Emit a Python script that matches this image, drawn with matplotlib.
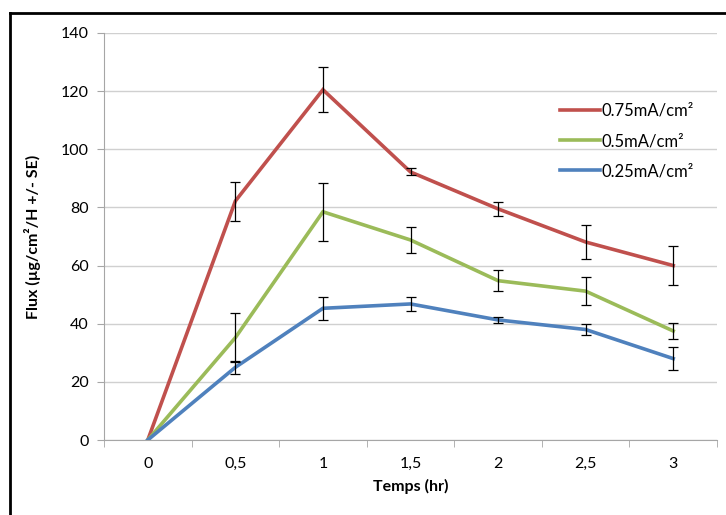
import matplotlib.pyplot as plt
from matplotlib.lines import Line2D

plt.rcParams['font.family'] = ['Lato', 'DejaVu Sans']

temps = ['0', '0,5', '1', '1,5', '2', '2,5', '3']
flux_075 = [0, 82.2, 120.5, 92.2, 79.5, 68.1, 60.0]
err_075 = [0, 6.7, 7.8, 1.2, 2.4, 5.9, 6.7]
flux_05 = [0, 35.2, 78.5, 68.8, 54.8, 51.2, 37.5]
err_05 = [0, 8.4, 10.0, 4.5, 3.7, 4.8, 2.9]
flux_025 = [0, 25.0, 45.3, 46.8, 41.3, 38.0, 28.0]
err_025 = [0, 2.2, 3.9, 2.5, 1.0, 1.9, 4.0]

labels = ['0.75mA/cm²', '0.5mA/cm²', '0.25mA/cm²']
colors = ['#C0504D', '#9BBB59', '#4F81BD']

fig = plt.figure(figsize=(7.26, 5.15), dpi=100)
ax = fig.add_axes([104 / 726, 1 - 440 / 515, (717 - 104) / 726, (440 - 33) / 515])

x = list(range(len(temps)))
series = [(flux_075, err_075), (flux_05, err_05), (flux_025, err_025)]
for (vals, errs), lab, col in zip(series, labels, colors):
    ax.plot(x, vals, color=col, lw=2.6, label=lab, solid_joinstyle='miter', zorder=3)
    ax.errorbar(x[1:], vals[1:], yerr=errs[1:], fmt='none', ecolor='black',
                elinewidth=0.9, capsize=3.5, capthick=0.9, zorder=4)

ax.set_ylim(0, 140)
ax.set_xlim(-0.5, len(temps) - 0.5)
ax.set_yticks(range(0, 141, 20))
ax.set_xticks(x)
ax.set_xticklabels(temps)
ax.set_xticks([i - 0.5 for i in range(len(temps) + 1)], minor=True)
ax.tick_params(axis='x', which='major', length=0, pad=12, labelsize=11.5)
ax.tick_params(axis='x', which='minor', length=5, color='#A6A6A6', direction='out')
ax.tick_params(axis='y', length=5, color='#A6A6A6', labelsize=11.5, pad=6)
ax.grid(axis='y', color='#D0D0D0', lw=1)
ax.set_axisbelow(True)
for s in ['top', 'right']:
    ax.spines[s].set_visible(False)
for s in ['left', 'bottom']:
    ax.spines[s].set_color('#A6A6A6')

ax.set_xlabel('Temps (hr)', fontweight='bold', fontsize=11.5, labelpad=6)
ax.set_ylabel('Flux (µg/cm²/H +/- SE)', fontweight='bold', fontsize=11.5, labelpad=14)

ax.legend(loc='upper left', bbox_to_anchor=(0.72, 0.865), frameon=False, fontsize=12,
          handlelength=2.4, handletextpad=0.05, labelspacing=0.85)

# frame round the chart (left and top only visible)
fig.add_artist(Line2D([10 / 726, 10 / 726], [0, 1 - 13 / 515], color='black', lw=2))
fig.add_artist(Line2D([10 / 726, 1], [1 - 13 / 515, 1 - 13 / 515], color='black', lw=2))

fig.savefig('out.png', dpi=100)
